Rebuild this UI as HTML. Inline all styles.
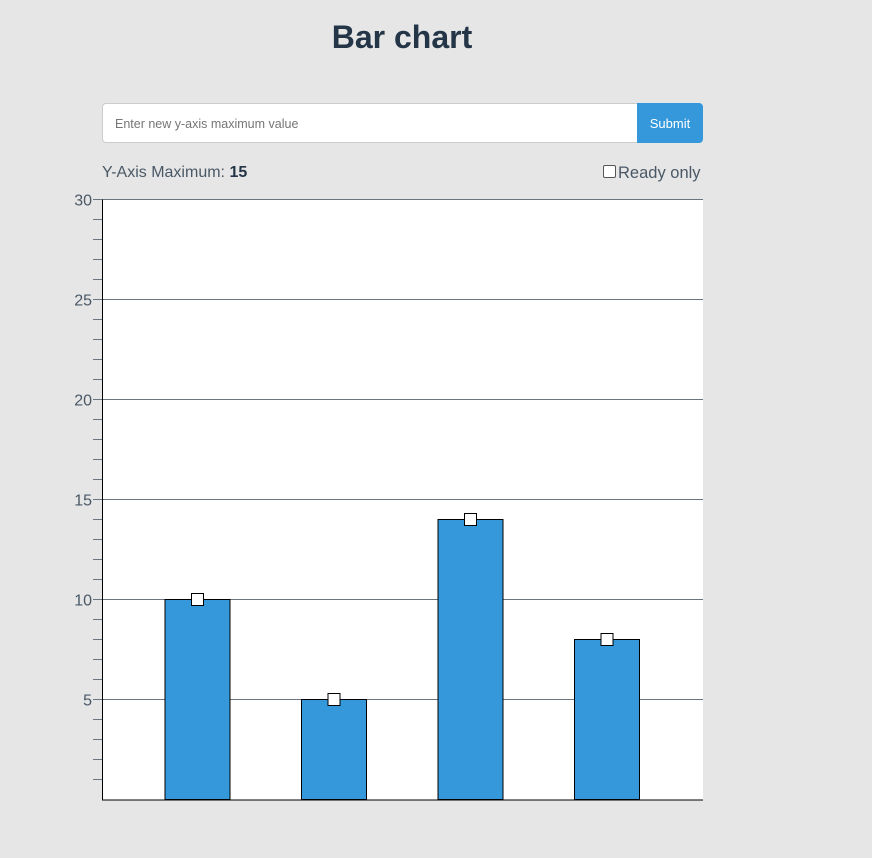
<!DOCTYPE html>
<html><head><meta charset="utf-8"><style>
body{margin:0;width:872px;height:858px;background:#e6e6e6;font-family:"Liberation Sans",sans-serif;position:relative;overflow:hidden}
h1{position:absolute;left:0;width:804px;top:19px;margin:0;text-align:center;font-size:32px;font-weight:bold;color:#233547}
.inp{position:absolute;left:102px;top:103px;width:535px;height:40px;border:1px solid #ccc;border-right:none;border-radius:4px 0 0 4px;background:#fff;box-sizing:border-box;font-size:12.5px;color:#757575;padding:13px 12px}
.btn{position:absolute;left:637px;top:103px;width:66px;height:40px;background:#3498db;color:#fff;border-radius:0 4px 4px 0;font-size:13px;line-height:41px;text-align:center}
.lbl{position:absolute;left:102px;top:164px;font-size:16px;color:#4a5866}
.ro{position:absolute;left:603px;top:164px;font-size:16.5px;color:#4a5866}
.cb{display:inline-block;width:11px;height:11px;border:1px solid #555;border-radius:2px;background:#fff;vertical-align:0px;margin-right:2px}
</style></head><body>
<h1>Bar chart</h1>
<div class="inp">Enter new y-axis maximum value</div>
<div class="btn">Submit</div>
<div class="lbl">Y-Axis Maximum: <b style="color:#233547">15</b></div>
<div class="ro"><span class="cb"></span>Ready only</div>
<svg id="c" width="872" height="858" style="position:absolute;left:0;top:0"></svg>
<script>
const categories=["A","B","C","D"];
const values=[10,5,14,8];
const majorTicks=[5,10,15,20,25,30];
const yMax=30;
const NS="http://www.w3.org/2000/svg";
const svg=document.getElementById("c");
const x0=102,x1=703,yTop=199.5,yBot=799.5;
function y(v){return yBot-(v/yMax)*(yBot-yTop);}
function xc(i){return 197.5+i*136.5;}
function mk(t,a){const e=document.createElementNS(NS,t);for(const k in a)e.setAttribute(k,a[k]);svg.appendChild(e);return e;}
const bg=mk("rect",{x:x0,y:yTop,width:x1-x0,height:yBot-yTop,fill:"#fff"});


for(let v=1;v<yMax;v++){if(v%5)mk("line",{x1:93,x2:x0,y1:Math.floor(y(v))+.5,y2:Math.floor(y(v))+.5,stroke:"#6b7580"});}
majorTicks.forEach(v=>{
 const g=mk("line",{x1:93,x2:x1,y1:Math.floor(y(v))+.5,y2:Math.floor(y(v))+.5,stroke:"#6b7580"});
 
 
 const t=mk("text",{x:92,y:y(v)+6,"text-anchor":"end","font-size":"16","fill":"#4a5866","font-family":"Liberation Sans"});
 t.textContent=v;
 
 
});
categories.forEach((c,i)=>{
 const b=mk("rect",{x:xc(i)-32.5,y:Math.floor(y(values[i]))+.5,width:65,height:yBot-Math.floor(y(values[i]))-.5,fill:"#3498db",stroke:"#000","stroke-width":1});
 
 
 const h=mk("rect",{x:xc(i)-6,y:Math.floor(y(values[i]))-5.5,width:12,height:12,fill:"#fff",stroke:"#000"});
 
 
});
mk("line",{x1:x0+.5,x2:x0+.5,y1:yTop,y2:yBot+1,stroke:"#000"});
mk("line",{x1:x0,x2:x1,y1:yBot+.5,y2:yBot+.5,stroke:"#000"});
</script>
</body></html>
